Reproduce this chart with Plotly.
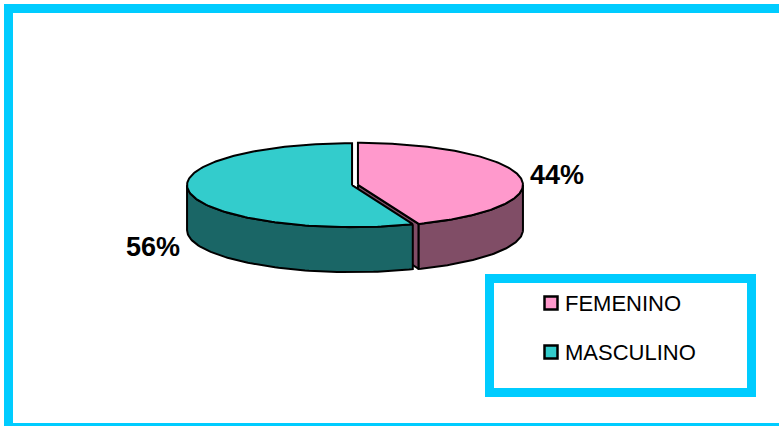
import numpy as np
import plotly.graph_objects as go

# Data
categories = ["FEMENINO", "MASCULINO"]
percentages = [44, 56]
top_colors = ["#FF99CC", "#33CCCC"]
side_colors = ["#804D66", "#1A6666"]

W, H = 779, 426
FRAME = "#00CCFF"
FONT = "Liberation Sans, Arial, sans-serif"

# Pie geometry (pixel space, y grows downward)
CX, CY = 355.0, 185.0      # centre of top ellipse
RA, RB = 165.0, 42.0       # semi-axes of top ellipse
DEPTH = 45.0               # thickness of the disc
EXPLODE = 3.0              # offset of each slice along its bisector

fig = go.Figure()


def rim(cx, cy, t_deg, dz=0.0):
    t = np.radians(t_deg)
    return cx + RA * np.sin(t), cy - RB * np.cos(t) + dz


def add_poly(xs, ys, fill):
    fig.add_trace(go.Scatter(
        x=list(xs) + [xs[0]], y=list(ys) + [ys[0]],
        mode="lines", fill="toself", fillcolor=fill,
        line=dict(color="black", width=2), hoverinfo="skip",
        showlegend=False,
    ))


total = float(sum(percentages))
start = 0.0
label_pos = []
for val, ctop, cside in zip(percentages, top_colors, side_colors):
    end = start + 360.0 * val / total
    mid = np.radians((start + end) / 2)
    cx = CX + EXPLODE * np.sin(mid)
    cy = CY - EXPLODE * np.cos(mid) * RB / RA

    # radial faces that turn toward the viewer
    for t_face, visible in ((start, np.sin(np.radians(start)) < -1e-9),
                            (end, np.sin(np.radians(end)) > 1e-9)):
        if visible:
            rx, ry = rim(cx, cy, t_face)
            add_poly([cx, rx, rx, cx], [cy, ry, ry + DEPTH, cy + DEPTH], cside)

    # outer wall on the front half of the disc
    a0, a1 = max(start, 90.0), min(end, 270.0)
    if a1 > a0:
        ts = np.linspace(a0, a1, 80)
        tx, ty = rim(cx, cy, ts)
        bx, by = rim(cx, cy, ts[::-1], DEPTH)
        add_poly(np.concatenate([tx, bx]), np.concatenate([ty, by]), cside)

    # top face
    ts = np.linspace(start, end, 160)
    tx, ty = rim(cx, cy, ts)
    add_poly(np.concatenate([[cx], tx]), np.concatenate([[cy], ty]), ctop)

    # percentage label outside the slice
    k = 1.23
    lx = cx + k * RA * np.sin(mid)
    ly = cy - k * RB * np.cos(mid)
    if np.cos(mid) < 0 and abs(np.sin(mid)) > 0.5:
        ly += DEPTH * 1.15
    label_pos.append((lx, ly, f"{val:.0f}%"))
    start = end

for lx, ly, txt in label_pos:
    fig.add_annotation(x=lx, y=ly, xref="x", yref="y", text=f"<b>{txt}</b>",
                       showarrow=False, font=dict(family=FONT, size=27, color="black"),
                       xanchor="center", yanchor="middle")

# Legend box with coloured keys
LEG_X0, LEG_Y0, LEG_X1, LEG_Y1 = 489.5, 278.5, 751.5, 392.5
fig.add_shape(type="rect", xref="x", yref="y", x0=LEG_X0, y0=LEG_Y0, x1=LEG_X1, y1=LEG_Y1,
              line=dict(color=FRAME, width=9), fillcolor="rgba(0,0,0,0)", layer="above")
key_y = [303 + 49 * i for i in range(len(categories))]
fig.add_trace(go.Scatter(
    x=[551] * len(categories), y=key_y, mode="markers",
    marker=dict(symbol="square", size=13, color=top_colors,
                line=dict(color="black", width=2.5)),
    hoverinfo="skip", showlegend=False,
))
for name, y in zip(categories, key_y):
    fig.add_annotation(x=563, y=y, xref="x", yref="y", text=name, showarrow=False,
                       font=dict(family=FONT, size=22, color="black"),
                       xanchor="left", yanchor="middle")

# Outer frame (open on the right edge)
fig.add_shape(type="rect", xref="x", yref="y", x0=8.5, y0=8.5, x1=W + 20, y1=427.5,
              line=dict(color=FRAME, width=9), fillcolor="rgba(0,0,0,0)", layer="above")

fig.update_layout(
    width=W, height=H, margin=dict(l=0, r=0, t=0, b=0),
    paper_bgcolor="white", plot_bgcolor="white", showlegend=False,
    xaxis=dict(range=[0, W], visible=False, fixedrange=True),
    yaxis=dict(range=[H, 0], visible=False, fixedrange=True),
)

fig.write_html("out.html")
